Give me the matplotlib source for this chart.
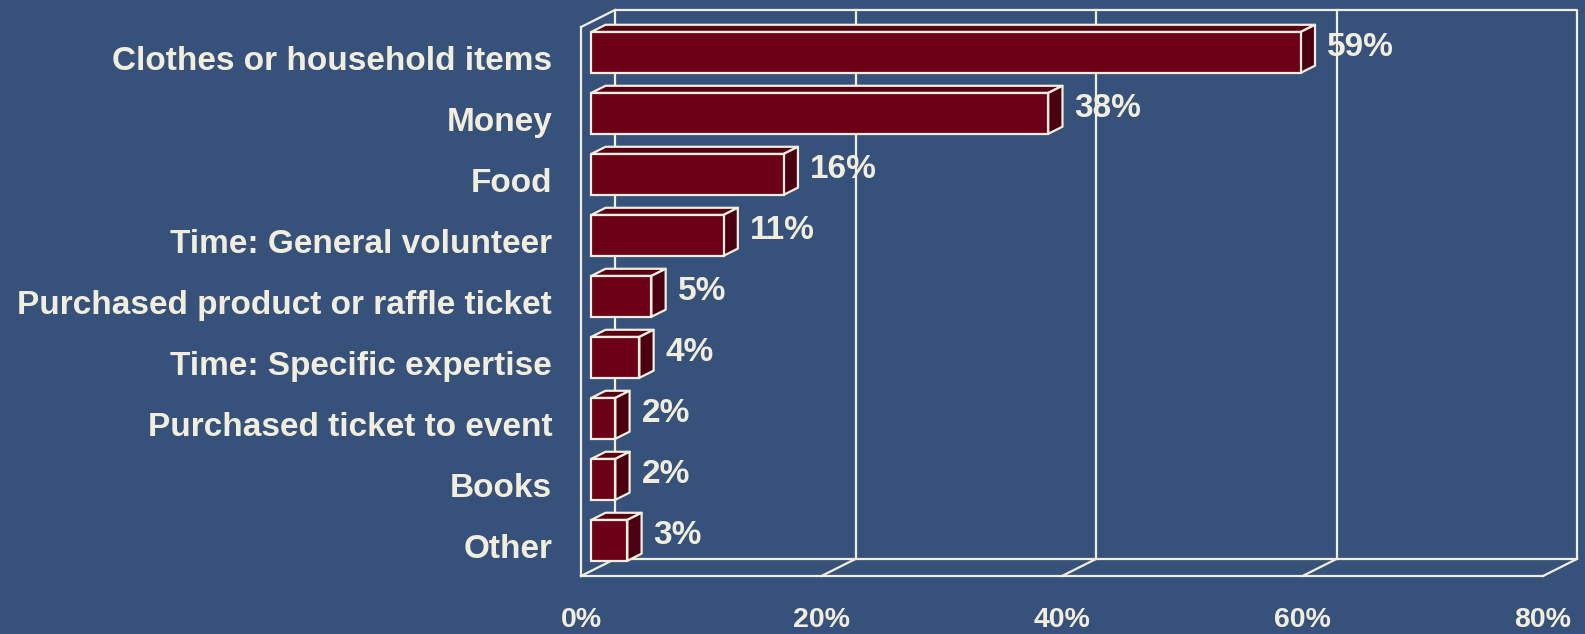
import matplotlib
matplotlib.use('Agg')
import matplotlib.pyplot as plt
from matplotlib.patches import Polygon
import numpy as np

# Share of respondents by type of donation
categories = ['Clothes or household items', 'Money', 'Food', 'Time: General volunteer',
              'Purchased product or raffle ticket', 'Time: Specific expertise',
              'Purchased ticket to event', 'Books', 'Other']
values = [59, 38, 16, 11, 5, 4, 2, 2, 3]
ticks = [0, 20, 40, 60, 80]
tick_labels = ['0%', '20%', '40%', '60%', '80%']

bg = '#36517A'
ink = '#F1EEDF'
face = '#6C0016'
side = '#4A0010'
top = '#5A0013'

# depth offset of the back wall, in data units (x in %, y in rows)
DX, DY = 2.83, -0.28
d_front, d_back = 0.30, 0.72
bar_h = 0.67

def proj(x, y, d):
    return x + d * DX, y + d * DY

fig = plt.figure(figsize=(15.85, 6.34), dpi=100)
fig.patch.set_facecolor(bg)
ax = fig.add_axes([0, 0, 1, 1])
ax.set_facecolor(bg)
ax.set_xlim(-48.32, 83.49)
ax.set_ylim(9.451, -0.943)
ax.axis('off')

lw = 1.6
y0, y1 = -0.5, 8.5
xmax = ticks[-1]

# back wall and its gridlines
bx0, by0 = proj(0, y0, 1)
bx1, by1 = proj(xmax, y1, 1)
ax.plot([bx0, bx1, bx1, bx0, bx0], [by1, by1, by0, by0, by1], color=ink, lw=lw, zorder=1)
for t in ticks[1:-1]:
    gx, _ = proj(t, 0, 1)
    ax.plot([gx, gx], [by0, by1], color=ink, lw=lw, zorder=1)

# floor
ax.plot([0, xmax], [y1, y1], color=ink, lw=lw, zorder=1)
for t in ticks:
    fx, fy = proj(t, y1, 1)
    ax.plot([t, fx], [y1, fy], color=ink, lw=lw, zorder=1)

# left wall
ax.plot([0, 0], [y0, y1], color=ink, lw=lw, zorder=1)
tx, ty = proj(0, y0, 1)
ax.plot([0, tx], [y0, ty], color=ink, lw=lw, zorder=1)

# bars: front face plus top and side faces
pos = np.arange(len(values))
fx0, fyshift = proj(0, 0, d_front)
ax.barh(pos + fyshift, values, height=bar_h, left=fx0, color=face,
        edgecolor=ink, linewidth=lw, zorder=3)
for i, v in zip(pos, values):
    yt = i - bar_h / 2
    yb = i + bar_h / 2
    top_pts = [proj(0, yt, d_front), proj(v, yt, d_front),
               proj(v, yt, d_back), proj(0, yt, d_back)]
    side_pts = [proj(v, yt, d_front), proj(v, yb, d_front),
                proj(v, yb, d_back), proj(v, yt, d_back)]
    ax.add_patch(Polygon(top_pts, closed=True, facecolor=top, edgecolor=ink,
                         linewidth=lw, joinstyle='round', zorder=2))
    ax.add_patch(Polygon(side_pts, closed=True, facecolor=side, edgecolor=ink,
                         linewidth=lw, joinstyle='round', zorder=2))
    lx, _ = proj(v, 0, d_back)
    ax.text(lx + 1.0, i - 0.16, f'{v}%', color=ink, fontsize=24, fontweight='bold',
            family='Liberation Sans', ha='left', va='center', zorder=4)

# category labels
for i, name in zip(pos, categories):
    ax.text(-2.4, i + 0.07, name, color=ink, fontsize=24, fontweight='bold',
            family='Liberation Sans', ha='right', va='center')

# x tick labels
for t, lab in zip(ticks, tick_labels):
    ax.text(t, 9.22, lab, color=ink, fontsize=20.5, fontweight='bold',
            family='Liberation Sans', ha='center', va='center')

fig.savefig('out.png', dpi=100, facecolor=bg)
